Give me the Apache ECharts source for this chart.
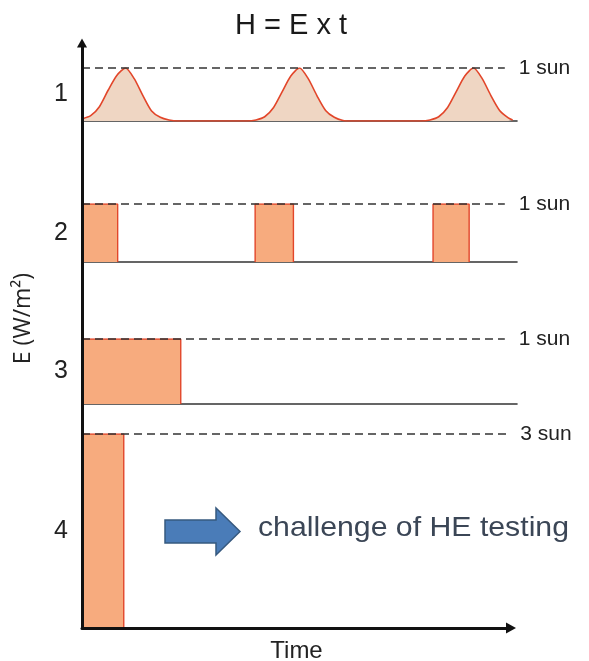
<!DOCTYPE html>
<html>
<head>
<meta charset="utf-8">
<script src="https://cdn.jsdelivr.net/npm/echarts@6/dist/echarts.min.js"></script>
<style>
html,body{margin:0;padding:0;background:#fff;}
#chart{width:589px;height:661px;}
</style>
</head>
<body>
<div id="chart"></div>
<script>
// ---- data ----
const panelNames = ['1', '2', '3', '4'];
const panelLevels = [1, 1, 1, 3];                // irradiance level (suns) of each panel
const levelLabels = ['1 sun', '1 sun', '1 sun', '3 sun'];

// panel 1: natural sunlight pulses (time, irradiance in suns)
const curveTime = [0, 2, 4, 6, 8, 10, 12, 14, 16, 18, 20, 22, 38, 40, 42, 44, 46, 48, 50, 52, 54, 56, 58, 60, 62, 78, 80, 82, 84, 86, 88, 90, 92, 94, 96, 98, 99];
const curveValue = [0.04, 0.1, 0.27, 0.58, 0.86, 1.0, 0.8, 0.48, 0.19, 0.07, 0.02, 0, 0, 0.02, 0.08, 0.25, 0.55, 0.85, 1.0, 0.8, 0.48, 0.2, 0.07, 0.01, 0, 0, 0.02, 0.08, 0.25, 0.55, 0.85, 1.0, 0.8, 0.48, 0.2, 0.06, 0.02];

// panel 2: square pulses
const pulse2Start = [0, 39.8, 80.7];
const pulse2End = [8.2, 48.6, 89];
// panel 3: single long exposure
const pulse3Start = [0];
const pulse3End = [22.7];
// panel 4: short high-intensity exposure
const pulse4Start = [0];
const pulse4End = [9.6];

const dashEnd = [97.2, 97.2, 97.2, 98];

// ---- layout ----
const panelBoxes = [
  {top: 68, height: 53},
  {top: 204, height: 58},
  {top: 339, height: 65},
  {top: 434, height: 194}
];
const LEFT = 82, PANEL_RIGHT = 589 - 517;
const RED = '#e2462a';
const RECT_FILL = '#f7ab7e';
const CURVE_FILL = '#efd6c3';
const FONT = '"Liberation Sans", Arial, sans-serif';

const grids = [], xAxes = [], yAxes = [], series = [];
panelBoxes.forEach((b, i) => {
  grids.push({left: LEFT, right: PANEL_RIGHT, top: b.top, height: b.height, outerBoundsMode: 'none', containLabel: false});
  xAxes.push({
    type: 'value', gridIndex: i, min: 0, max: 100,
    axisLine: {show: i < 3, onZero: false, lineStyle: {color: '#333', width: 1.6}},
    axisTick: {show: false}, axisLabel: {show: false}, splitLine: {show: false}
  });
  yAxes.push({
    type: 'value', gridIndex: i, min: 0, max: panelLevels[i],
    name: panelNames[i], nameLocation: 'middle', nameRotate: 0, nameGap: 14,
    nameTextStyle: {fontSize: 25, color: '#222', fontFamily: FONT},
    axisLine: {show: false}, axisTick: {show: false}, axisLabel: {show: false}, splitLine: {show: false}
  });
  // dashed reference level + label
  series.push({
    type: 'line', xAxisIndex: i, yAxisIndex: i, data: [], silent: true,
    markLine: {
      symbol: 'none', silent: true, animation: false,
      lineStyle: {type: [8, 5], color: '#333', width: 1.5},
      label: {show: true, position: 'end', distance: i === 3 ? 12 : 14, formatter: levelLabels[i],
               fontSize: 21, color: '#222', fontFamily: FONT},
      data: [[{coord: [0, panelLevels[i]]}, {coord: [dashEnd[i], panelLevels[i]]}]]
    }
  });
});

// panel 1 curve
series.push({
  type: 'line', xAxisIndex: 0, yAxisIndex: 0, showSymbol: false, smooth: 0.25,
  data: curveTime.map((t, k) => [t, curveValue[k]]),
  lineStyle: {color: RED, width: 1.6},
  areaStyle: {color: CURVE_FILL, opacity: 1}, z: 3
});

function addPulses(starts, ends, idx) {
  starts.forEach((s, k) => {
    const lvl = panelLevels[idx];
    series.push({
      type: 'line', xAxisIndex: idx, yAxisIndex: idx, showSymbol: false,
      data: [[s, 0], [s, lvl], [ends[k], lvl], [ends[k], 0]],
      lineStyle: {color: RED, width: 1.4},
      areaStyle: {color: RECT_FILL, opacity: 1}, z: 3
    });
  });
}
addPulses(pulse2Start, pulse2End, 1);
addPulses(pulse3Start, pulse3End, 2);
addPulses(pulse4Start, pulse4End, 3);

// main axes with arrows
grids.push({left: LEFT, right: 589 - 511, top: 43, bottom: 33, outerBoundsMode: 'none', containLabel: false});
xAxes.push({
  type: 'value', gridIndex: 4, min: 0, max: 100, z: 10,
  name: 'Time', nameLocation: 'middle', nameGap: 11,
  nameTextStyle: {fontSize: 24, color: '#222', fontFamily: FONT, verticalAlign: 'top'},
  axisLine: {show: true, onZero: false, symbol: ['none', 'triangle'], symbolSize: [11, 10],
             lineStyle: {color: '#111', width: 3}},
  axisTick: {show: false}, axisLabel: {show: false}, splitLine: {show: false}
});
yAxes.push({
  type: 'value', gridIndex: 4, min: 0, max: 100, z: 10,
  name: 'E (W/m²)', nameLocation: 'middle', nameGap: 47,
  nameTextStyle: {fontSize: 23, color: '#222', fontFamily: '"Open Sans", "DejaVu Sans", sans-serif', padding: [0, 0, 0, 34]},
  axisLine: {show: true, onZero: false, symbol: ['none', 'triangle'], symbolSize: [10, 9],
             lineStyle: {color: '#111', width: 3}},
  axisTick: {show: false}, axisLabel: {show: false}, splitLine: {show: false}
});

const option = {
  animation: false,
  backgroundColor: '#fff',
  title: {
    text: 'H = E x t', left: 230, top: 6,
    textStyle: {fontSize: 29, fontWeight: 'normal', color: '#1a1a1a', fontFamily: FONT}
  },
  grid: grids, xAxis: xAxes, yAxis: yAxes, series: series,
  graphic: [
    {
      type: 'polygon', z: 20,
      shape: {points: [[165, 520], [216, 520], [216, 508], [240, 531.5], [216, 555], [216, 543], [165, 543]]},
      style: {fill: '#4a7cb8', stroke: '#36597f', lineWidth: 1.5}
    },
    {
      type: 'text', z: 20, x: 258, y: 514, scaleX: 1.08,
      style: {text: 'challenge of HE testing', fontSize: 28, fill: '#3b4656', fontFamily: FONT}
    }
  ]
};

const chart = echarts.init(document.getElementById('chart'), null, {renderer: 'canvas'});
chart.setOption(option);
</script>
</body>
</html>
